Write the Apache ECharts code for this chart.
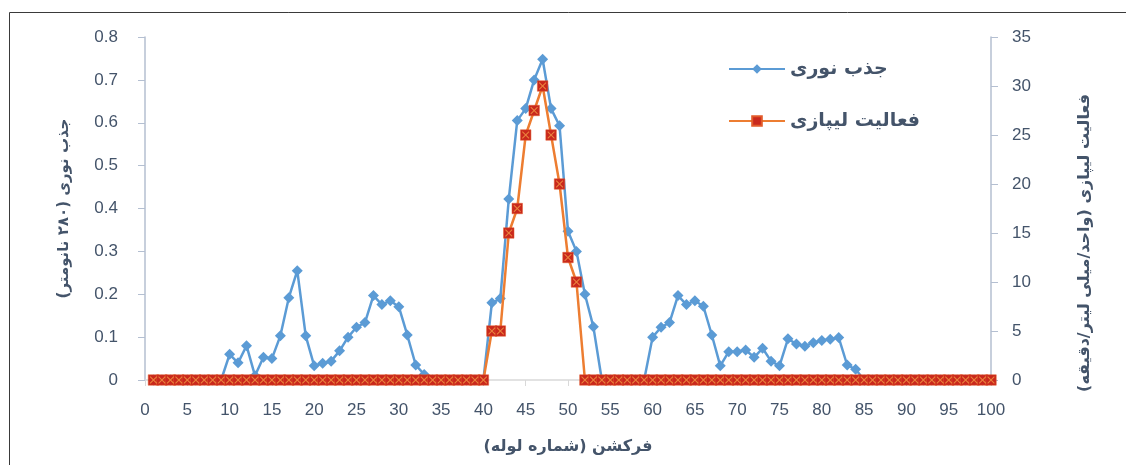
<!DOCTYPE html>
<html><head><meta charset="utf-8">
<script src="https://cdn.jsdelivr.net/npm/echarts@6/dist/echarts.min.js"></script>
<style>html,body{margin:0;padding:0;background:#fff}#c{width:1126px;height:465px}</style>
</head><body><div id="c"></div>
<script>
// Tube numbers (fractions)
const fractions = [1,2,3,4,5,6,7,8,9,10,11,12,13,14,15,16,17,18,19,20,
  21,22,23,24,25,26,27,28,29,30,31,32,33,34,35,36,37,38,39,40,
  41,42,43,44,45,46,47,48,49,50,51,52,53,54,55,56,57,58,59,60,
  61,62,63,64,65,66,67,68,69,70,71,72,73,74,75,76,77,78,79,80,
  81,82,83,84,85,86,87,88,89,90,91,92,93,94,95,96,97,98,99,100];
// Absorbance at 280 nm
const absorbance = [0,0,0,0,0,0,0,0,0,0.06,0.04,0.08,0.01,0.053,0.05,0.103,0.192,0.255,0.103,0.033,
  0.039,0.044,0.068,0.10,0.123,0.134,0.197,0.176,0.185,0.171,0.105,0.035,0.013,0,0,0,0,0,0,0,
  0.18,0.19,0.422,0.605,0.633,0.70,0.748,0.633,0.593,0.347,0.30,0.20,0.124,0,0,0,0,0,0,0.10,
  0.123,0.134,0.197,0.176,0.185,0.172,0.105,0.033,0.066,0.066,0.07,0.053,0.074,0.044,0.033,0.096,0.084,0.079,0.087,0.092,
  0.095,0.099,0.035,0.025,0,0,0,0,0,0,0,0,0,0,0,0,0,0,0,0];
// Lipase activity (U/ml/min)
const lipase = [0,0,0,0,0,0,0,0,0,0,0,0,0,0,0,0,0,0,0,0,
  0,0,0,0,0,0,0,0,0,0,0,0,0,0,0,0,0,0,0,0,
  5,5,15,17.5,25,27.5,30,25,20,12.5,10,0,0,0,0,0,0,0,0,0,
  0,0,0,0,0,0,0,0,0,0,0,0,0,0,0,0,0,0,0,0,
  0,0,0,0,0,0,0,0,0,0,0,0,0,0,0,0,0,0,0,0];
const xTicks = [0,100,5];
const leftTicks = [0,0.8,0.1];
const rightTicks = [0,35,5];
const seriesNames = ['جذب نوری','فعالیت لیپازی'];
const xName = 'فرکشن (شماره لوله)';
const leftName = 'جذب نوری (۲۸۰ نانومتر)';
const rightName = 'فعالیت لیپازی (واحد/میلی لیتر/دقیقه)';

const absData = fractions.map((f,i)=>[f,absorbance[i]]);
const lipData = fractions.map((f,i)=>[f,lipase[i]]);

const labelColor = '#44546a';
const numFont = 'Liberation Sans';
const faFont = 'DejaVu Sans';
const axisLineColor = '#b4bfd1';

const chart = echarts.init(document.getElementById('c'), null, {renderer:'canvas'});
chart.setOption({
  animation:false,
  backgroundColor:'#fff',
  graphic:[
    {type:'rect', shape:{x:9.5,y:12.5,width:1300,height:600}, style:{fill:'none',stroke:'#3a3a3a',lineWidth:1}, silent:true},
    {type:'text', x:1085, y:243, rotation:Math.PI/2, silent:true,
     style:{text:rightName, align:'center', verticalAlign:'middle', fill:labelColor,
            font:'bold 16px "DejaVu Sans"'}}
  ],
  grid:{left:145,right:135,top:37,bottom:85},
  legend:{
    data:seriesNames, orient:'vertical', left:723, top:53,
    itemWidth:56, itemHeight:12, itemGap:30,
    textStyle:{fontFamily:faFont, fontWeight:'bold', fontSize:19, color:labelColor, lineHeight:22}
  },
  xAxis:{
    type:'value', min:xTicks[0], max:xTicks[1], interval:xTicks[2],
    name:xName, nameLocation:'middle', nameGap:59,
    nameTextStyle:{fontFamily:faFont, fontWeight:'bold', fontSize:16, color:labelColor},
    axisLine:{show:true, lineStyle:{color:'#d9d9d9', width:1.5}},
    axisTick:{show:true, length:6, lineStyle:{color:'#d9d9d9'}},
    axisLabel:{fontFamily:numFont, fontSize:17, color:labelColor, margin:22},
    splitLine:{show:false}
  },
  yAxis:[{
    type:'value', min:leftTicks[0], max:leftTicks[1], interval:leftTicks[2], position:'left',
    name:leftName, nameLocation:'middle', nameRotate:90, nameGap:73,
    nameTextStyle:{fontFamily:faFont, fontWeight:'bold', fontSize:15, color:labelColor},
    axisLine:{show:true, lineStyle:{color:axisLineColor, width:1.5}},
    axisTick:{show:true, length:7, lineStyle:{color:axisLineColor}},
    axisLabel:{fontFamily:numFont, fontSize:17, color:labelColor, margin:27,
      formatter:v=> v===0 ? '0' : v.toFixed(1)},
    splitLine:{show:false}
  },{
    type:'value', min:rightTicks[0], max:rightTicks[1], interval:rightTicks[2], position:'right',
    axisLine:{show:true, lineStyle:{color:axisLineColor, width:1.5}},
    axisTick:{show:true, length:7, lineStyle:{color:axisLineColor}},
    axisLabel:{fontFamily:numFont, fontSize:17, color:labelColor, margin:21},
    splitLine:{show:false}
  }],
  series:[{
    name:seriesNames[0], type:'line', yAxisIndex:0, data:absData,
    showAllSymbol:true, symbol:'diamond', symbolSize:11,
    lineStyle:{color:'#5b9bd5', width:2.5},
    itemStyle:{color:'#5b9bd5'}, z:2
  },{
    name:seriesNames[1], type:'line', yAxisIndex:1, data:lipData,
    showAllSymbol:true, symbol:'rect', symbolSize:10.5,
    lineStyle:{color:'#ed7d31', width:2.5},
    itemStyle:{color:'#c9281c', borderColor:'#e25a2a', borderWidth:0.5}, z:3
  },{
    name:'overlay', type:'scatter', yAxisIndex:1, data:lipData,
    symbol:'path://M1,0 L5,4 L9,0 L10,1 L6,5 L10,9 L9,10 L5,6 L1,10 L0,9 L4,5 L0,1 Z',
    symbolSize:7.5, itemStyle:{color:'#f39a45'}, z:4, silent:true
  }]
});
</script></body></html>
